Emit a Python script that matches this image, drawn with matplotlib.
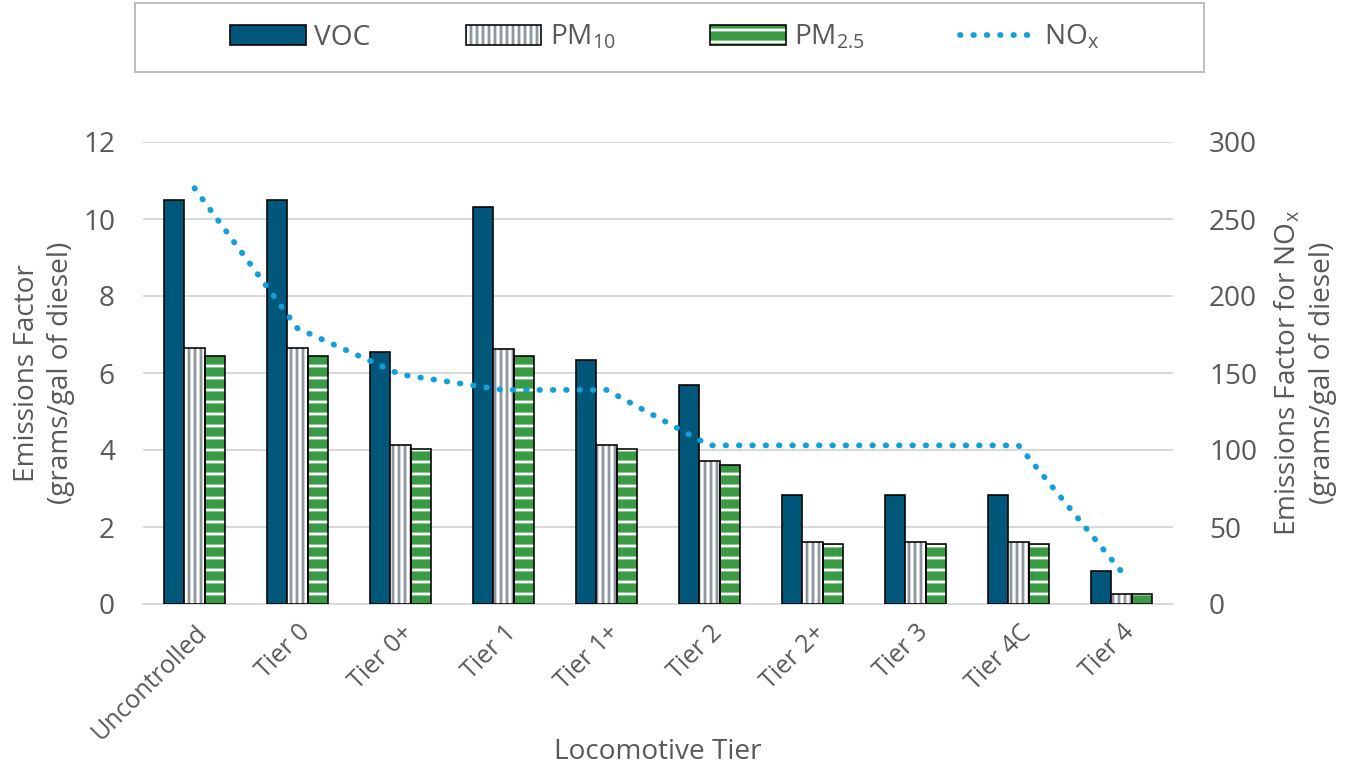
import numpy as np
import matplotlib
matplotlib.use('Agg')
import matplotlib.pyplot as plt
from matplotlib.patches import Rectangle
from matplotlib.lines import Line2D
from matplotlib.legend_handler import HandlerTuple

tiers = ['Uncontrolled', 'Tier 0', 'Tier 0+', 'Tier 1', 'Tier 1+',
         'Tier 2', 'Tier 2+', 'Tier 3', 'Tier 4C', 'Tier 4']
voc = [10.5, 10.5, 6.55, 10.3, 6.34, 5.69, 2.82, 2.82, 2.82, 0.85]
pm10 = [6.65, 6.65, 4.12, 6.63, 4.12, 3.71, 1.61, 1.61, 1.61, 0.27]
pm25 = [6.43, 6.44, 4.02, 6.44, 4.02, 3.60, 1.57, 1.57, 1.57, 0.25]
nox = [270, 179, 149, 139, 139, 103, 103, 103, 103, 21]

plt.rcParams['font.family'] = ['Open Sans', 'DejaVu Sans']
plt.rcParams['mathtext.default'] = 'regular'
plt.rcParams['hatch.linewidth'] = 1.4

grey_txt = '#595959'
voc_col = '#00577A'
pm10_hatch = '#8E979E'
pm25_col = '#3A9B45'
nox_col = '#129FDA'

dpi = 144
fig = plt.figure(figsize=(1354 / dpi, 765 / dpi), dpi=dpi)
ax = fig.add_axes([143 / 1354, 1 - 604 / 765, 1030 / 1354, 462 / 765])
ax2 = ax.twinx()

x = np.arange(len(tiers))
w = 0.195

b_voc = ax.bar(x - w, voc, w, color=voc_col, edgecolor='black', linewidth=0.8, zorder=3)
b_pm10h = ax.bar(x, pm10, w, color='white', edgecolor=pm10_hatch, hatch='||||', linewidth=0, zorder=3)
b_pm10e = ax.bar(x, pm10, w, fill=False, edgecolor='black', linewidth=0.8, zorder=4)
b_pm25h = ax.bar(x + w, pm25, w, color=pm25_col, edgecolor='white', hatch='--', linewidth=0, zorder=3)
b_pm25e = ax.bar(x + w, pm25, w, fill=False, edgecolor='black', linewidth=0.8, zorder=4)

nox_line, = ax2.plot(x, nox, color=nox_col, linewidth=2.9,
                     linestyle=(0, (0.1, 2.2)), dash_capstyle='round')

ax.set_xlim(-0.5, len(tiers) - 0.5)
ax.set_ylim(0, 12)
ax.set_yticks(np.arange(0, 13, 2))
ax2.set_ylim(0, 300)
ax2.set_yticks(np.arange(0, 301, 50))

ax.set_axisbelow(True)
ax.yaxis.grid(True, color='#D9D9D9', linewidth=1.0, zorder=0)
for a in (ax, ax2):
    for s in a.spines.values():
        s.set_visible(False)
    a.tick_params(length=0, labelsize=14, colors=grey_txt)
ax.spines['bottom'].set_visible(True)
ax.spines['bottom'].set_color('#D9D9D9')
ax.spines['bottom'].set_linewidth(1.0)

ax.tick_params(axis='y', pad=14)
ax2.tick_params(axis='y', pad=18)
ax.set_xticks(x)
ax.set_xticklabels(tiers, rotation=45, ha='right', rotation_mode='anchor', fontsize=12.5)
ax.tick_params(axis='x', pad=8)

ax.set_ylabel('Emissions Factor\n(grams/gal of diesel)', fontsize=14, color=grey_txt,
              linespacing=1.3, labelpad=4)
ax2.set_ylabel('Emissions Factor for NO$_x$\n(grams/gal of diesel)', fontsize=14,
               color=grey_txt, linespacing=1.3, labelpad=8)
ax.set_xlabel('Locomotive Tier', fontsize=14, color=grey_txt)
ax.xaxis.set_label_coords(0.5, -0.29)

# legend box
fig.patches.append(Rectangle((135 / 1354, 1 - 72 / 765), 1069 / 1354, 69 / 765,
                             transform=fig.transFigure, fill=False,
                             edgecolor='#BFBFBF', linewidth=1.0))
leg_nox = Line2D([], [], color=nox_col, linewidth=2.9,
                 linestyle=(0, (0.1, 2.2)), dash_capstyle='round')
fig.legend([b_voc[0], (b_pm10h[0], b_pm10e[0]), (b_pm25h[0], b_pm25e[0]), leg_nox],
           ['VOC', 'PM$_{10}$', 'PM$_{2.5}$', 'NO$_x$'],
           handler_map={tuple: HandlerTuple(ndivide=1)},
           loc='center', bbox_to_anchor=(0.491, 1 - 37.5 / 765), ncol=4,
           frameon=False, fontsize=14, labelcolor=grey_txt,
           handlelength=2.7, handleheight=0.7, handletextpad=0.3, columnspacing=3.4)

fig.savefig('out.png', dpi=dpi)
